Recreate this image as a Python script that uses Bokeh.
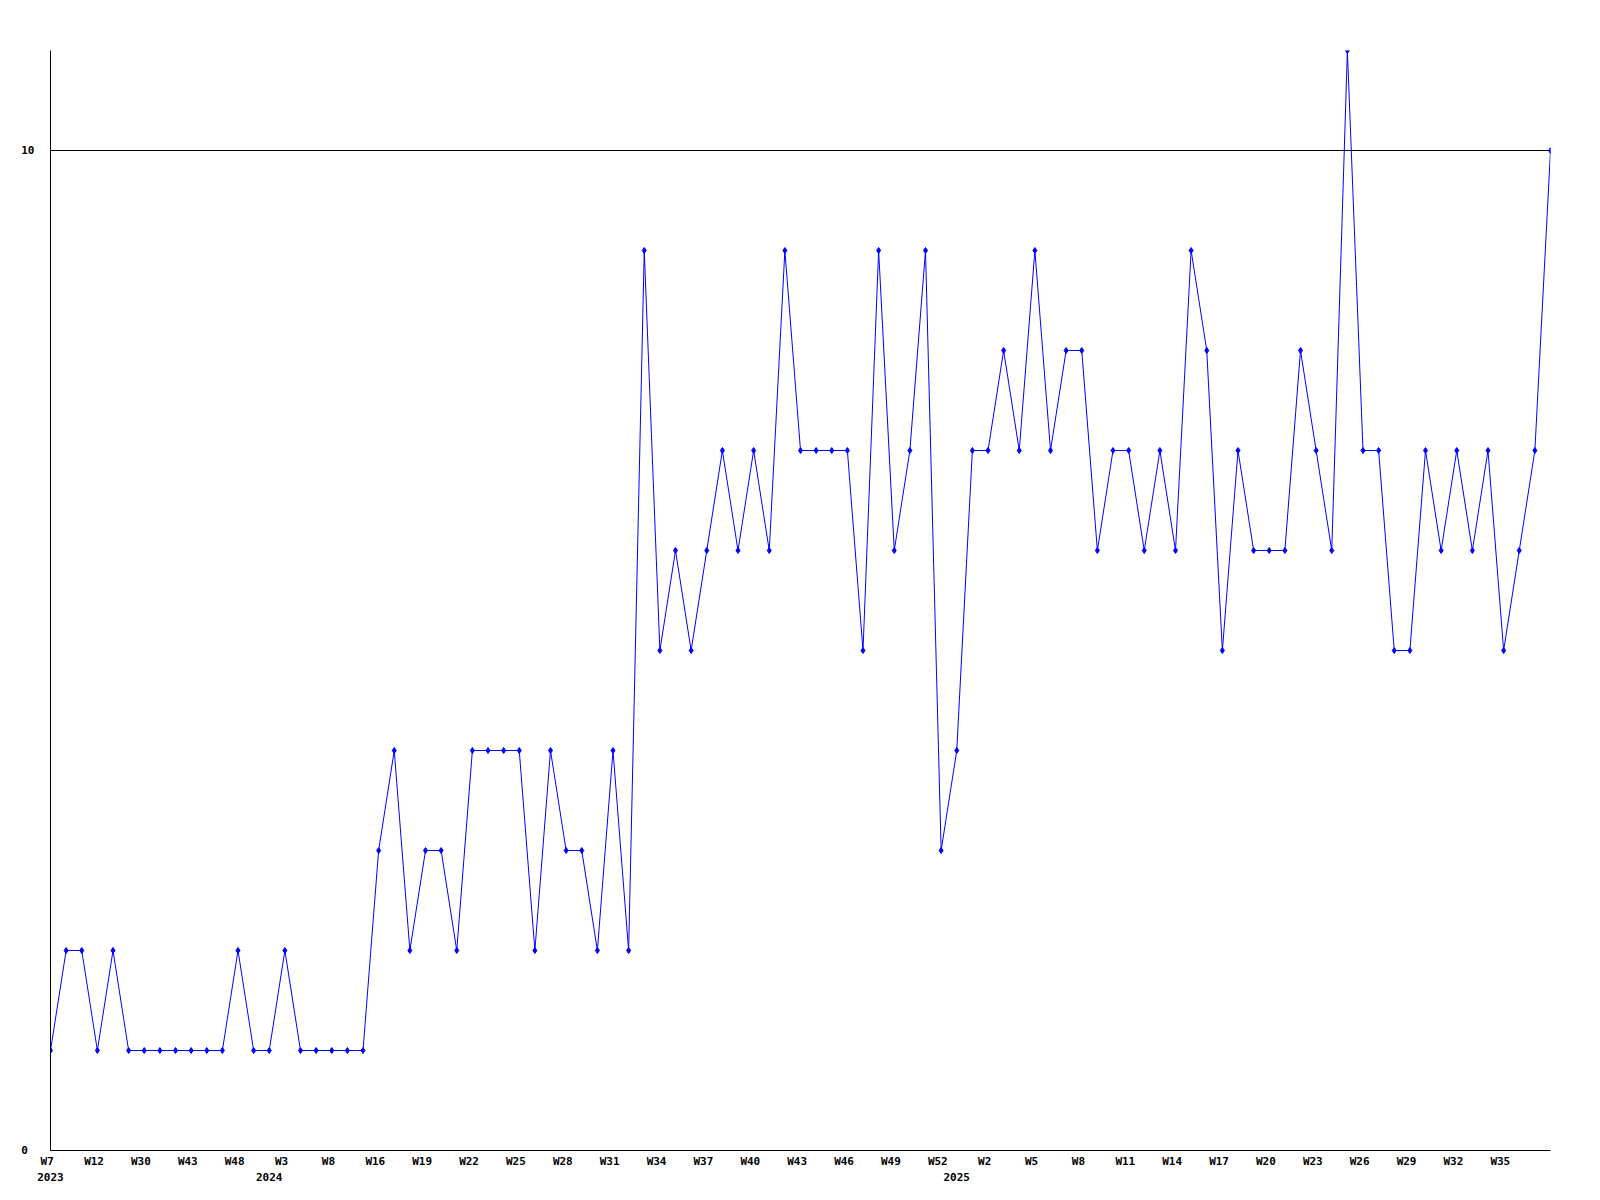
from bokeh.plotting import figure
from bokeh.models import FixedTicker, LinearAxis, Range1d, ColumnDataSource
from bokeh.embed import file_html
from bokeh.resources import INLINE

# weekly counts (one point per reported week)
values = [1, 2, 2, 1, 2, 1, 1, 1, 1, 1, 1, 1, 2, 1, 1, 2, 1, 1, 1, 1,
          1, 3, 4, 2, 3, 3, 2, 4, 4, 4, 4, 2, 4, 3, 3, 2, 4, 2, 9, 5,
          6, 5, 6, 7, 6, 7, 6, 9, 7, 7, 7, 7, 5, 9, 6, 7, 9, 3, 4, 7,
          7, 8, 7, 9, 7, 8, 8, 6, 7, 7, 6, 7, 6, 9, 8, 5, 7, 6, 6, 6,
          8, 7, 6, 11, 7, 7, 5, 5, 7, 6, 7, 6, 7, 5, 6, 7, 10]

# week tick labels, one every 3rd point
week_labels = ["W7", "W12", "W30", "W43", "W48", "W3", "W8", "W16", "W19", "W22",
               "W25", "W28", "W31", "W34", "W37", "W40", "W43", "W46", "W49", "W52",
               "W2", "W5", "W8", "W11", "W14", "W17", "W20", "W23", "W26", "W29",
               "W32", "W35"]
label_step = 3

# year labels and the point index where each year starts
year_labels = ["2023", "2024", "2025"]
year_positions = [0, 14, 58]

y_ticks = [0, 10]
y_max = 11

FONT = "DejaVu Sans Mono"
FSIZE = "11px"

x = list(range(len(values)))
src = ColumnDataSource(dict(x=x, y=values))

p = figure(output_backend="svg", toolbar_location=None,
           x_range=Range1d(0, len(values) - 1), y_range=Range1d(0, y_max),
           frame_width=1500, frame_height=1100,
           min_border_left=50, min_border_top=50, min_border_right=40,
           min_border_bottom=10)
p.outline_line_color = None
p.background_fill_color = "white"
p.border_fill_color = "white"

p.line("x", "y", source=src, line_color="#0000ff", line_width=1)
p.scatter("x", "y", source=src, marker="diamond", size=6,
          fill_color="#0000ff", line_color="#0000ff")

# x axis (weeks); trailing no-break space nudges the text slightly left
xa = p.xaxis[0]
xa.ticker = FixedTicker(ticks=[i * label_step for i in range(len(week_labels))])
xa.major_label_overrides = {i * label_step: lab + "\u00a0" for i, lab in enumerate(week_labels)}
xa.major_tick_line_color = None
xa.minor_tick_line_color = None
xa.major_tick_out = 0
xa.major_tick_in = 0
xa.major_label_standoff = 4
xa.axis_line_color = "black"
xa.major_label_text_font = FONT
xa.major_label_text_font_style = "bold"
xa.major_label_text_font_size = FSIZE
xa.major_label_text_color = "black"

# year axis under week axis
ya2 = LinearAxis(ticker=FixedTicker(ticks=year_positions),
                 major_label_overrides={pos: lab for pos, lab in zip(year_positions, year_labels)})
ya2.axis_line_color = None
ya2.major_tick_line_color = None
ya2.minor_tick_line_color = None
ya2.major_tick_out = 0
ya2.major_tick_in = 0
ya2.major_label_standoff = 2
ya2.major_label_text_font = FONT
ya2.major_label_text_font_style = "bold"
ya2.major_label_text_font_size = FSIZE
ya2.major_label_text_color = "black"
p.add_layout(ya2, "below")

# y axis
ya = p.yaxis[0]
ya.ticker = FixedTicker(ticks=y_ticks)
ya.major_label_overrides = {0: "0\u00a0", 10: "10"}
ya.major_tick_line_color = None
ya.minor_tick_line_color = None
ya.major_tick_out = 0
ya.major_tick_in = 0
ya.major_label_standoff = 16
ya.axis_line_color = "black"
ya.major_label_text_font = FONT
ya.major_label_text_font_style = "bold"
ya.major_label_text_font_size = FSIZE
ya.major_label_text_color = "black"

p.xgrid.visible = False
p.ygrid.ticker = FixedTicker(ticks=[10])
p.ygrid.grid_line_color = "black"
p.ygrid.grid_line_alpha = 1.0
p.ygrid.grid_line_width = 1

open("out.html", "w").write(file_html(p, INLINE))
